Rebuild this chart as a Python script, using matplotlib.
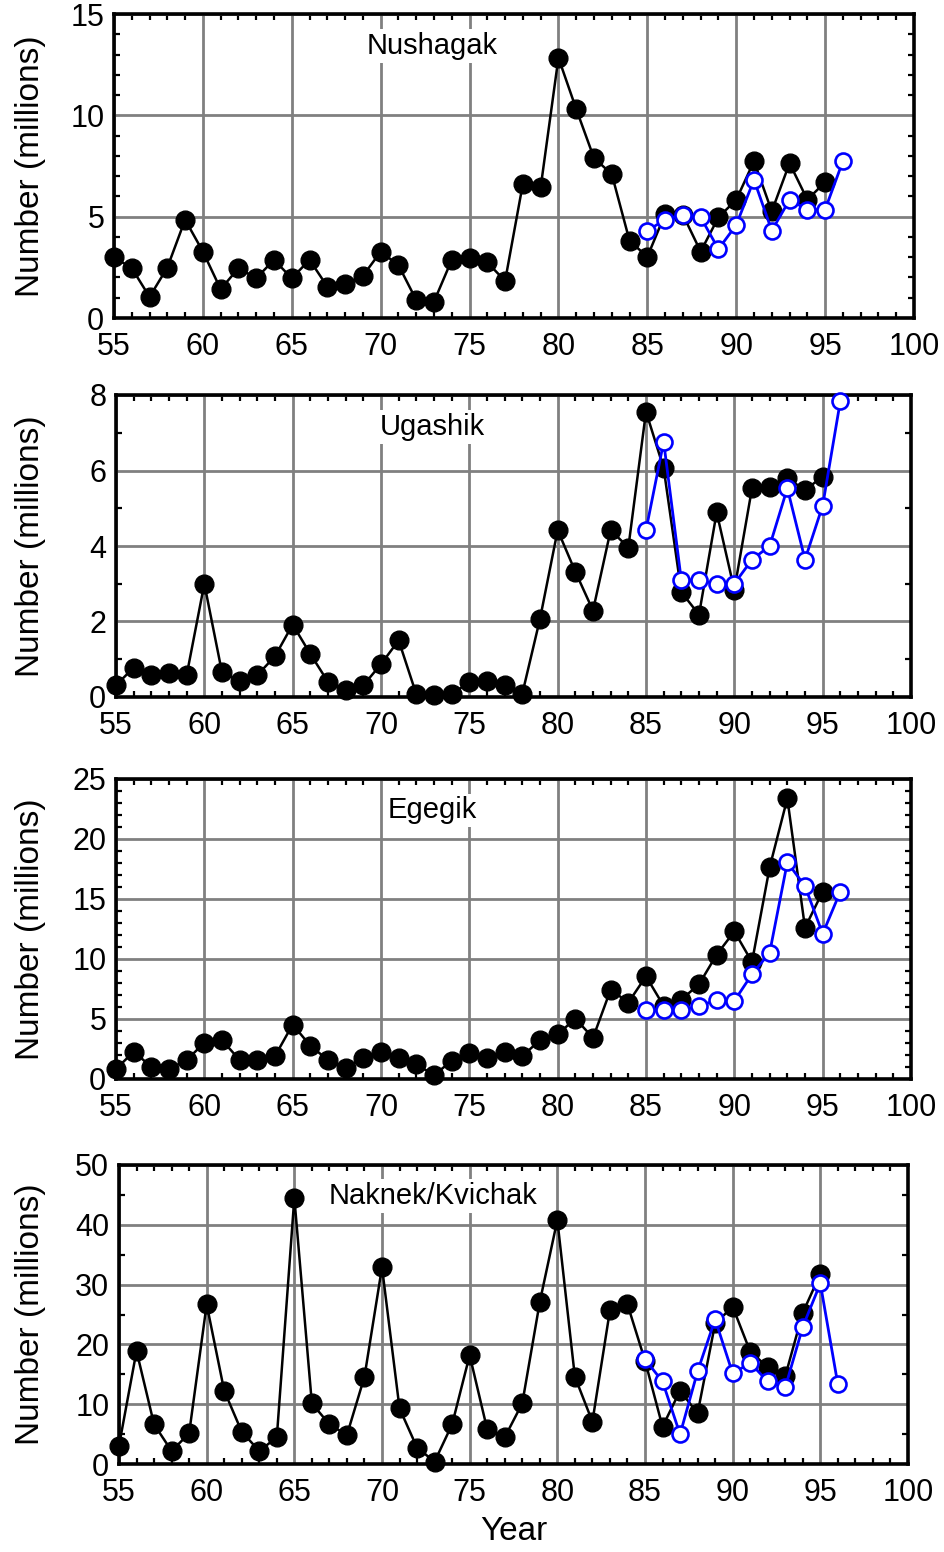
import matplotlib
matplotlib.use("Agg")
import matplotlib.pyplot as plt
import matplotlib.transforms as mtransforms
from matplotlib.ticker import MultipleLocator, FixedLocator
import numpy as np

plt.rcParams['font.family'] = ['Liberation Sans', 'DejaVu Sans']

# ---------------- data ----------------
years_obs = list(range(55, 96))   # 1955-1995
years_fc = list(range(85, 97))    # 1985-1996

nushagak_obs = [3.0, 2.46, 1.04, 2.49, 4.85, 3.28, 1.42, 2.46, 1.96, 2.87,
                1.96, 2.87, 1.55, 1.67, 2.08, 3.27, 2.61, 0.89, 0.81, 2.87,
                2.94, 2.74, 1.83, 6.63, 6.45, 12.84, 10.31, 7.89, 7.10, 3.81,
                3.02, 5.13, 5.1, 3.28, 4.97, 5.83, 7.74, 5.26, 7.64, 5.84, 6.70]
nushagak_fc = [4.31, 4.85, 5.10, 4.97, 3.40, 4.59, 6.82, 4.31, 5.83, 5.35, 5.35, 7.74]

ugashik_obs = [0.31, 0.78, 0.58, 0.64, 0.58, 3.0, 0.65, 0.43, 0.58, 1.08,
               1.92, 1.14, 0.40, 0.18, 0.31, 0.87, 1.50, 0.07, 0.06, 0.07,
               0.40, 0.43, 0.31, 0.09, 2.07, 4.42, 3.32, 2.29, 4.42, 3.96,
               7.56, 6.06, 2.78, 2.18, 4.89, 2.84, 5.53, 5.55, 5.80, 5.48, 5.84]
ugashik_fc = [4.42, 6.76, 3.09, 3.09, 3.0, 3.0, 3.64, 4.0, 5.53, 3.64, 5.07, 7.84]

egegik_obs = [0.83, 2.27, 1.02, 0.83, 1.58, 3.02, 3.24, 1.58, 1.58, 1.91,
              4.54, 2.77, 1.58, 0.94, 1.72, 2.27, 1.72, 1.22, 0.33, 1.50,
              2.13, 1.72, 2.27, 1.91, 3.24, 3.71, 5.04, 3.43, 7.45, 6.37,
              8.56, 6.09, 6.62, 7.89, 10.36, 12.3, 9.75, 17.65, 23.38, 12.6, 15.62]
egegik_fc = [5.73, 5.73, 5.73, 6.09, 6.57, 6.51, 8.73, 10.53, 18.06, 16.07, 12.1, 15.62]

naknek_obs = [3.06, 18.9, 6.63, 2.17, 5.13, 26.7, 12.26, 5.4, 2.17, 4.46,
              44.5, 10.14, 6.63, 4.85, 14.6, 32.9, 9.3, 2.73, 0.39, 6.63,
              18.2, 5.79, 4.46, 10.14, 27.1, 40.8, 14.6, 7.08, 25.7, 26.7,
              17.3, 6.24, 12.26, 8.47, 23.5, 26.3, 18.8, 16.2, 14.7, 25.3, 31.8]
naknek_fc = [17.5, 13.8, 4.96, 15.5, 24.2, 15.15, 16.9, 13.8, 12.8, 22.95, 30.2, 13.3]

river_names = ["Nushagak", "Ugashik", "Egegik", "Naknek/Kvichak"]
x_ticks = [55, 60, 65, 70, 75, 80, 85, 90, 95, 100]
x_ticklabels = ["55", "60", "65", "70", "75", "80", "85", "90", "95", "100"]
y_max = [15, 8, 25, 50]
y_major = [5, 2, 5, 10]
y_minor = [1, 1, 1, 5]
ylabel_text = "Number (millions)"
xlabel_text = "Year"

obs_series = [nushagak_obs, ugashik_obs, egegik_obs, naknek_obs]
fc_series = [nushagak_fc, ugashik_fc, egegik_fc, naknek_fc]

# ---------------- layout ----------------
W, H = 945, 1552
fig = plt.figure(figsize=(W / 100, H / 100), dpi=100)

# panel boxes in pixels: left, right, top, bottom
boxes = [(114, 914, 14, 318),
         (116, 911, 395, 697),
         (116, 911, 779, 1079),
         (119, 908, 1165, 1464)]

TICK_FS = 22
for i, (l, r, t, b) in enumerate(boxes):
    ax = fig.add_axes([l / W, 1 - b / H, (r - l) / W, (b - t) / H])
    ax.set_xlim(55, 100)
    ax.set_ylim(0, y_max[i])

    ax.xaxis.set_major_locator(FixedLocator(x_ticks))
    ax.set_xticklabels(x_ticklabels)
    ax.xaxis.set_minor_locator(MultipleLocator(1))
    ax.yaxis.set_major_locator(MultipleLocator(y_major[i]))
    ax.yaxis.set_minor_locator(MultipleLocator(y_minor[i]))

    ax.grid(True, which='major', color='#808080', linewidth=2.0, zorder=0)
    ax.set_axisbelow(True)

    ax.tick_params(which='both', direction='in', top=True, right=True,
                   labelsize=TICK_FS, colors='black')
    ax.tick_params(axis='x', which='major', length=0, pad=10)
    ax.tick_params(axis='y', which='major', length=0, pad=7)
    ax.tick_params(which='minor', length=4, width=1.6)
    for sp in ax.spines.values():
        sp.set_linewidth(2.6)
        sp.set_zorder(2.6)

    ax.plot(years_obs, obs_series[i], color='black', linewidth=1.8,
            marker='o', markersize=13.5, markerfacecolor='black',
            markeredgecolor='black', clip_on=False, zorder=4)
    ax.plot(years_fc, fc_series[i], color='#0000FF', linewidth=2.0,
            marker='o', markersize=11.5, markerfacecolor='white',
            markeredgecolor='#0000FF', markeredgewidth=1.9, clip_on=False,
            zorder=5)

    ax.text(0.398, 0.895, river_names[i], transform=ax.transAxes,
            ha='center', va='center', fontsize=21, zorder=3,
            bbox=dict(facecolor='white', edgecolor='none', pad=2))

    ax.set_ylabel(ylabel_text, fontsize=24)
    trans = mtransforms.blended_transform_factory(fig.transFigure, ax.transAxes)
    ax.yaxis.set_label_coords(46 / W, 0.5, transform=trans)

    # white background of the "0" label partially hides the first x label
    ticks = ax.yaxis.get_major_ticks()
    if ticks:
        ticks[0].label1.set_bbox(dict(facecolor='white', edgecolor='none', pad=0.5))

    if i == 3:
        ax.set_xlabel(xlabel_text, fontsize=24, labelpad=6)

fig.savefig("out.png", dpi=100)
